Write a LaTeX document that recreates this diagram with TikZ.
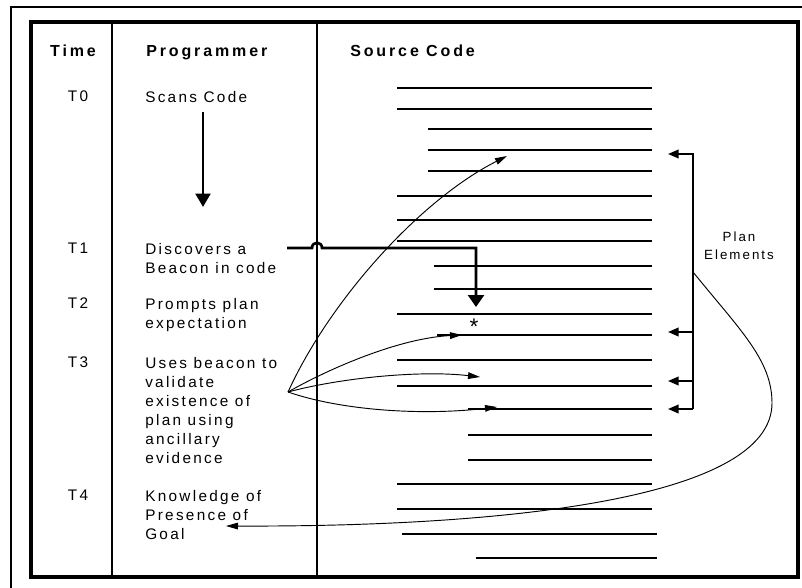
\documentclass[tikz,border=0pt]{standalone}
\usepackage{fontspec}
\setmainfont{Liberation Sans}[LetterSpace=15]
\newfontfamily\titrefont{Liberation Sans}[LetterSpace=18]
\usetikzlibrary{arrows.meta}

\begin{document}
\begin{tikzpicture}[x=0.75pt, y=-0.75pt,
  texte/.style={font=\fontsize{11.5}{14.2}\selectfont, inner sep=0pt, align=left, anchor=north west},
  temps/.style={font=\fontsize{11.5}{14.2}\selectfont, inner sep=0pt, anchor=north},
  titre/.style={font=\titrefont\bfseries\fontsize{12}{14}\selectfont, inner sep=0pt},
  grasse/.style={line width=2pt},
  fine/.style={line width=0.9pt},
  fleche/.style={line width=0.7pt, -{Triangle[length=9pt,width=5pt]}},
  plan/.style={line width=1.3pt, -{Triangle[length=8pt,width=6.5pt]}}]

% Cadre
\useasboundingbox (0,0) rectangle (802,588);
\draw[line width=1.1pt] (11,588) -- (11,7) -- (802,7);
\draw[line width=2.6pt] (31,22) rectangle (798,577);
\draw[line width=0.8pt] (112,22) -- (112,577);
\draw[line width=1.5pt] (317,22) -- (317,577);

% Titres
\node[titre, anchor=north] (hTime) at (73,45) {Time};
\node[titre, anchor=north west] (hProg) at (146,45) {Programmer};
\node[titre, anchor=north west] (hSrc) at (350,45) {Source Code};

% Temps
\node[temps] (T0) at (78,91) {T0};
\node[temps] (T1) at (78,243) {T1};
\node[temps] (T2) at (78,298) {T2};
\node[temps] (T3) at (78,357) {T3};
\node[temps] (T4) at (78,490) {T4};

% Programmeur
\node[texte] (scan) at (145,91) {Scans Code};
\node[texte] (beacon) at (145,243) {Discovers a\\Beacon in code};
\node[texte] (prompt) at (145,298) {Prompts plan\\expectation};
\node[texte] (valid) at (145,357) {Uses beacon to\\validate\\existence of\\plan using\\ancillary\\evidence};
\node[texte] (goaltxt) at (145,490) {Knowledge of\\Presence of\\Goal};

\coordinate (scanA) at (203,112);
\coordinate (scanB) at (203,207);
\draw[line width=2.2pt, -{Triangle[length=10pt,width=11pt]}] (scanA) -- (scanB);

% Code source
\foreach \y/\xa/\st in {88/397/grasse, 109/397/grasse, 129/428/fine, 150/428/fine,
    171/428/fine, 196/397/grasse, 220/397/fine, 241/397/fine, 266/434/grasse,
    289/434/fine, 314/397/fine, 335/437/grasse, 360/397/fine, 386/397/fine,
    409/468/grasse, 435/468/fine, 460/468/fine, 484/397/fine, 509/397/fine}
  \draw[\st] (\xa,\y) -- (652,\y);
\draw[grasse] (402,534) -- (657,534);
\draw[fine] (476,558) -- (657,558);

% Balise
\node[font=\fontsize{17}{17}\selectfont, inner sep=0pt] (etoile) at (474,327) {*};
\coordinate (bDep) at (287,248);
\coordinate (bSaut) at (312,248);
\coordinate (bCoin) at (476,248);
\coordinate (bFin) at (476,307);
\draw[line width=2pt, -{Triangle[length=9pt,width=12pt]}]
  (bDep) -- (bSaut) .. controls (312,241) and (322,241) .. (322,248) -- (bCoin) -- (bFin);

% Validation
\coordinate (src) at (288,392);
\draw[fleche] (src) .. controls (330,300) and (420,200) .. (507,156);
\draw[fleche] (src) .. controls (330,368) and (400,338) .. (462,335);
\draw[fleche] (src) .. controls (340,378) and (420,370) .. (480,377);
\draw[fleche] (src) .. controls (340,410) and (420,416) .. (497,407);

% Elements du plan
\coordinate (pe1) at (668,154);
\coordinate (pe2) at (668,332);
\coordinate (pe3) at (668,381);
\coordinate (pe4) at (668,409);
\draw[plan] (693,409) -- (693,154) -- (pe1);
\draw[plan] (693,332) -- (pe2);
\draw[plan] (693,381) -- (pe3);
\draw[plan] (693,409) -- (pe4);
\node[font=\fontsize{10}{13.5}\selectfont, align=center, inner sep=0pt] (planlbl) at (739,246) {Plan\\Elements};

% Retour vers le but
\coordinate (goal) at (226,526);
\draw[fleche] (693,272) .. controls (740,330) and (772,360) .. (772,403)
  .. controls (772,500) and (500,527) .. (goal);

\end{tikzpicture}
\end{document}
